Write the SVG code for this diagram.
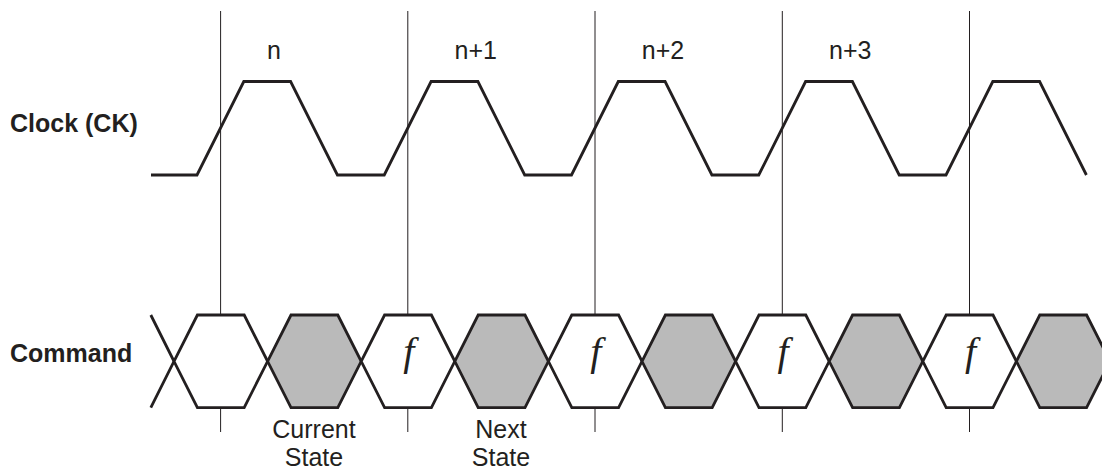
<svg xmlns="http://www.w3.org/2000/svg" xmlns:xlink="http://www.w3.org/1999/xlink" width="1102" height="470" viewBox="0 0 1102 470">
<style>
  .grid { stroke: #231f20; stroke-width: 1; fill: none; }
  .sig { stroke: #231f20; stroke-width: 2.8; fill: none; stroke-linejoin: miter; }
  .hexw { fill: #ffffff; stroke: #231f20; stroke-width: 2.8; }
  .hexg { fill: #bababa; stroke: #231f20; stroke-width: 2.8; }
  .lbl { font-family: "Liberation Sans", Arial, sans-serif; font-size: 25px; font-weight: bold; fill: #231f20; }
  .txt { font-family: "Liberation Sans", Arial, sans-serif; font-size: 25px; fill: #231f20; }
  .f { font-family: "Liberation Serif", "Times New Roman", serif; font-size: 40px; font-style: italic; fill: #231f20; text-anchor: middle; }
</style>
<defs>
  <polygon id="hex" points="-46.8,0 -23.4,-46.3 23.4,-46.3 46.8,0 23.4,46.3 -23.4,46.3"/>
</defs>
<rect width="1102" height="470" fill="#ffffff"/>
<g id="connectors">
  <line class="grid" x1="220.6" y1="11" x2="220.6" y2="432"/>
  <line class="grid" x1="407.8" y1="11" x2="407.8" y2="432"/>
  <line class="grid" x1="595" y1="11" x2="595" y2="432"/>
  <line class="grid" x1="782.3" y1="11" x2="782.3" y2="432"/>
  <line class="grid" x1="969.5" y1="11" x2="969.5" y2="432"/>
</g>
<g id="clock">
  <polyline class="sig" points="151,175 197,175 243.8,81.5 290.6,81.5 337.4,175 384.25,175 431.1,81.5 477.9,81.5 524.7,175 571.5,175 618.3,81.5 665.1,81.5 711.9,175 758.75,175 805.6,81.5 852.4,81.5 899.2,175 946,175 992.8,81.5 1039.6,81.5 1086.4,175"/>
</g>
<g id="command">
  <polyline class="sig" points="150.8,315 174,361.3 150.8,407.6"/>
  <g id="cmd0"><use xlink:href="#hex" class="hexw" x="220.8" y="361.3"/></g>
  <g id="cmd1"><use xlink:href="#hex" class="hexg" x="314.4" y="361.3"/></g>
  <g id="cmd2"><use xlink:href="#hex" class="hexw" x="408" y="361.3"/><text class="f" x="408.7" y="365">f</text></g>
  <g id="cmd3"><use xlink:href="#hex" class="hexg" x="501.6" y="361.3"/></g>
  <g id="cmd4"><use xlink:href="#hex" class="hexw" x="595.2" y="361.3"/><text class="f" x="595.9" y="365">f</text></g>
  <g id="cmd5"><use xlink:href="#hex" class="hexg" x="688.8" y="361.3"/></g>
  <g id="cmd6"><use xlink:href="#hex" class="hexw" x="782.4" y="361.3"/><text class="f" x="783.1" y="365">f</text></g>
  <g id="cmd7"><use xlink:href="#hex" class="hexg" x="876" y="361.3"/></g>
  <g id="cmd8"><use xlink:href="#hex" class="hexw" x="969.6" y="361.3"/><text class="f" x="970.6" y="365">f</text></g>
  <g id="cmd9"><use xlink:href="#hex" class="hexg" x="1063.2" y="361.3"/></g>
</g>
<g id="labels">
  <text class="lbl" x="10" y="132">Clock (CK)</text>
  <text class="lbl" x="10" y="362">Command</text>
  <text class="txt" x="267" y="59">n</text>
  <text class="txt" x="454.5" y="59">n+1</text>
  <text class="txt" x="641.8" y="59">n+2</text>
  <text class="txt" x="829" y="59">n+3</text>
  <text class="txt" x="314" y="438" text-anchor="middle">Current</text>
  <text class="txt" x="314" y="466" text-anchor="middle">State</text>
  <text class="txt" x="501" y="438" text-anchor="middle">Next</text>
  <text class="txt" x="501" y="466" text-anchor="middle">State</text>
</g>
</svg>
